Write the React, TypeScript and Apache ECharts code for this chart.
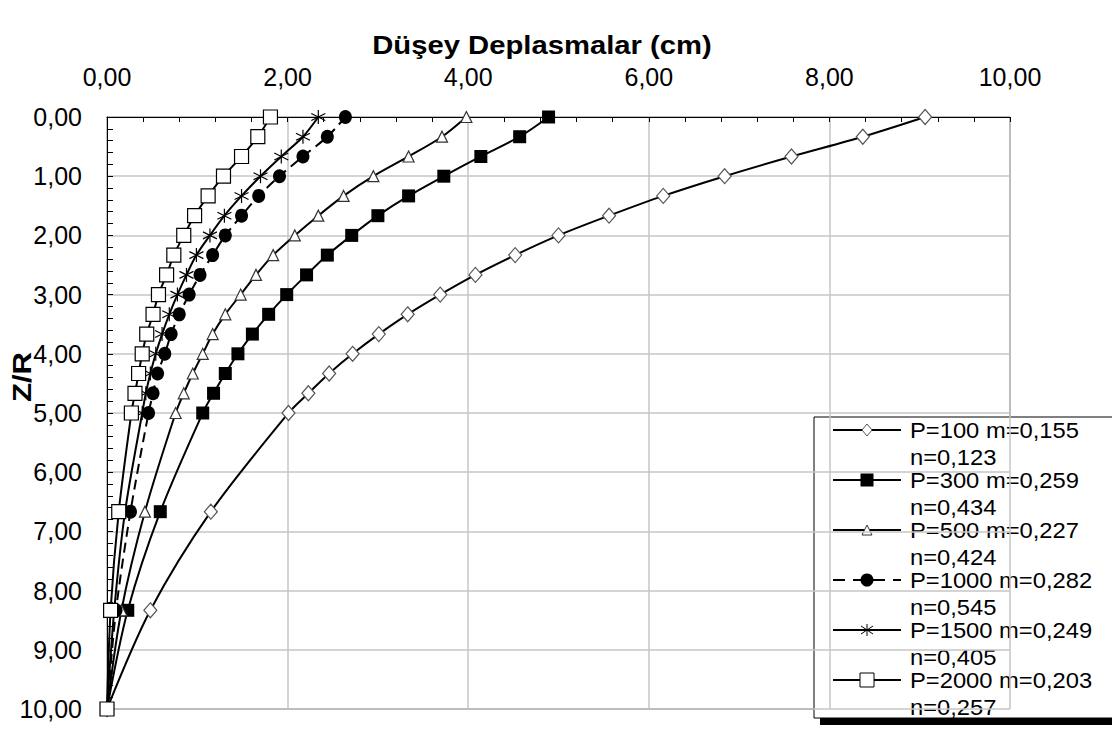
import { useEffect, useRef } from "react";
import * as echarts from "echarts";

// Z/R depth ratios at which the settlements were computed
const depthRatios = [0, 0.333, 0.667, 1, 1.333, 1.667, 2, 2.333, 2.667, 3, 3.333, 3.667, 4, 4.333, 4.667, 5, 6.667, 8.333, 10];

// vertical displacements (cm) for each load case
const p100 = [9.06, 8.37, 7.58, 6.84, 6.16, 5.56, 5.0, 4.52, 4.08, 3.69, 3.33, 3.01, 2.72, 2.46, 2.23, 2.01, 1.15, 0.48, 0];
const p300 = [4.89, 4.57, 4.14, 3.73, 3.34, 3.0, 2.71, 2.44, 2.21, 1.99, 1.79, 1.61, 1.45, 1.31, 1.18, 1.06, 0.59, 0.23, 0];
const p500 = [3.98, 3.71, 3.34, 2.95, 2.62, 2.34, 2.08, 1.84, 1.65, 1.48, 1.31, 1.17, 1.06, 0.95, 0.85, 0.76, 0.42, 0.16, 0];
const p1000 = [2.64, 2.44, 2.17, 1.91, 1.68, 1.49, 1.31, 1.17, 1.03, 0.91, 0.8, 0.71, 0.64, 0.56, 0.51, 0.46, 0.26, 0.1, 0];
const p1500 = [2.34, 2.17, 1.93, 1.7, 1.49, 1.3, 1.14, 0.99, 0.88, 0.78, 0.69, 0.61, 0.54, 0.48, 0.43, 0.39, 0.2, 0.08, 0];
const p2000 = [1.81, 1.67, 1.49, 1.29, 1.12, 0.97, 0.85, 0.74, 0.66, 0.57, 0.51, 0.44, 0.39, 0.35, 0.31, 0.27, 0.13, 0.04, 0];

const seriesValues = [p100, p300, p500, p1000, p1500, p2000];
const seriesNames = ["P=100 m=0,155", "P=300 m=0,259", "P=500 m=0,227", "P=1000 m=0,282", "P=1500 m=0,249", "P=2000 m=0,203"];
const seriesSubNames = ["n=0,123", "n=0,434", "n=0,424", "n=0,545", "n=0,405", "n=0,257"];
const markerKinds = ["diamond", "filledSquare", "triangle", "circle", "asterisk", "hollowSquare"];

const titleText = "Düşey Deplasmalar (cm)";
const yAxisTitle = "Z/R";

const FONT = "Arial, 'Liberation Sans', sans-serif";
const fmt = (v: number) => v.toFixed(2).replace(".", ",");

const ASTERISK = "path://M6 0 L6 12 M0 3 L12 9 M0 9 L12 3";

function seriesSymbol(kind: string) {
  switch (kind) {
    case "diamond":
      return { symbol: "diamond", symbolSize: [13, 15], itemStyle: { color: "#fff", borderColor: "#555", borderWidth: 1.2 } };
    case "filledSquare":
      return { symbol: "rect", symbolSize: 13, itemStyle: { color: "#000", borderColor: "#000", borderWidth: 0 } };
    case "triangle":
      return { symbol: "triangle", symbolSize: [11, 11], itemStyle: { color: "#fff", borderColor: "#333", borderWidth: 1.2 } };
    case "circle":
      return { symbol: "circle", symbolSize: [13, 14], itemStyle: { color: "#000", borderColor: "#000", borderWidth: 0 } };
    case "asterisk":
      return { symbol: ASTERISK, symbolSize: 14, itemStyle: { color: "#000", borderColor: "#000", borderWidth: 1.2 } };
    default:
      return { symbol: "rect", symbolSize: 14, itemStyle: { color: "#fff", borderColor: "#000", borderWidth: 1.2 } };
  }
}

function legendMarker(kind: string, cx: number, cy: number): any[] {
  switch (kind) {
    case "diamond":
      return [{ type: "polygon", shape: { points: [[cx, cy - 6], [cx + 5, cy], [cx, cy + 6], [cx - 5, cy]] }, style: { fill: "#fff", stroke: "#555", lineWidth: 1 } }];
    case "filledSquare":
      return [{ type: "rect", shape: { x: cx - 6.5, y: cy - 6.5, width: 13, height: 13 }, style: { fill: "#000" } }];
    case "triangle":
      return [{ type: "polygon", shape: { points: [[cx, cy - 5], [cx + 5, cy + 5], [cx - 5, cy + 5]] }, style: { fill: "#fff", stroke: "#333", lineWidth: 1 } }];
    case "circle":
      return [{ type: "circle", shape: { cx, cy, r: 6.5 }, style: { fill: "#000" } }];
    case "asterisk":
      return [
        { type: "line", shape: { x1: cx, y1: cy - 6, x2: cx, y2: cy + 6 }, style: { stroke: "#000", lineWidth: 1 } },
        { type: "line", shape: { x1: cx - 6, y1: cy - 4, x2: cx + 6, y2: cy + 4 }, style: { stroke: "#000", lineWidth: 1 } },
        { type: "line", shape: { x1: cx - 6, y1: cy + 4, x2: cx + 6, y2: cy - 4 }, style: { stroke: "#000", lineWidth: 1 } },
      ];
    default:
      return [{ type: "rect", shape: { x: cx - 7, y: cy - 7, width: 14, height: 14 }, style: { fill: "#fff", stroke: "#000", lineWidth: 1 } }];
  }
}

function buildLegend(): any[] {
  const boxX = 814, boxY = 417, boxW = 320, boxH = 301;
  const children: any[] = [
    { type: "rect", shape: { x: boxX + 6, y: boxY + 6, width: boxW, height: boxH + 1 }, style: { fill: "#000" } },
    { type: "rect", shape: { x: boxX, y: boxY, width: boxW, height: boxH }, style: { fill: "#fff", stroke: "#000", lineWidth: 1 } },
  ];
  seriesNames.forEach((name, i) => {
    const cy = 430 + i * 50;
    const dashed = markerKinds[i] === "circle";
    children.push({
      type: "line",
      shape: { x1: 833, y1: cy, x2: 901, y2: cy },
      style: { stroke: "#000", lineWidth: 2, lineDash: dashed ? [12, 8] : null },
    });
    children.push(...legendMarker(markerKinds[i], 867, cy));
    children.push({
      type: "text",
      x: 910,
      y: cy,
      scaleX: 1.08,
      style: { text: name, fill: "#000", font: `22px ${FONT}`, align: "left", verticalAlign: "middle" },
    });
    children.push({
      type: "text",
      x: 910,
      y: cy + 27,
      scaleX: 1.08,
      style: { text: seriesSubNames[i], fill: "#000", font: `22px ${FONT}`, align: "left", verticalAlign: "middle" },
    });
  });
  return [{ type: "group", z: 100, children }];
}

export default function App() {
  const ref = useRef<HTMLDivElement>(null);

  useEffect(() => {
    if (!ref.current) return;
    const chart = echarts.init(ref.current, null, { renderer: "svg" });

    const series = seriesValues.map((vals, i) => {
      const sym = seriesSymbol(markerKinds[i]);
      return {
        name: seriesNames[i],
        type: "line",
        smooth: 0.3,
        data: vals.map((v, k) => [v, depthRatios[k]]),
        symbol: sym.symbol,
        symbolSize: sym.symbolSize,
        itemStyle: sym.itemStyle,
        lineStyle: { color: "#000", width: 2, type: markerKinds[i] === "circle" ? [10, 6] : "solid" },
        z: 2 + i,
      };
    });

    chart.setOption({
      animation: false,
      backgroundColor: "#fff",
      grid: {
        left: 107,
        top: 117,
        width: 903,
        height: 592,
        show: true,
        borderColor: "#444",
        borderWidth: 1,
        backgroundColor: "transparent",
      },
      xAxis: {
        type: "value",
        position: "top",
        min: 0,
        max: 10,
        interval: 2,
        axisLine: { show: true, onZero: false, lineStyle: { color: "#000", width: 1 } },
        axisTick: { show: true, inside: true, length: 5, lineStyle: { color: "#000" } },
        minorTick: { show: true, splitNumber: 5, length: 5, lineStyle: { color: "#000" } },
        splitLine: { show: true, lineStyle: { color: "#c6c6c6", width: 1.5 } },
        axisLabel: { formatter: fmt, fontFamily: FONT, fontSize: 25, color: "#000", margin: 28 },
      },
      yAxis: {
        type: "value",
        inverse: true,
        min: 0,
        max: 10,
        interval: 1,
        axisLine: { show: true, onZero: false, lineStyle: { color: "#000", width: 1 } },
        axisTick: { show: true, inside: true, length: 6, lineStyle: { color: "#000" } },
        minorTick: { show: true, splitNumber: 5, length: 6, lineStyle: { color: "#000" } },
        splitLine: { show: true, lineStyle: { color: "#c6c6c6", width: 1.5 } },
        axisLabel: { formatter: fmt, fontFamily: FONT, fontSize: 25, color: "#000", margin: 25 },
      },
      series,
      graphic: [
        {
          type: "text",
          x: 542,
          y: 45,
          scaleX: 1.17,
          z: 50,
          style: { text: titleText, fill: "#000", font: `bold 25px ${FONT}`, align: "center", verticalAlign: "middle" },
        },
        {
          type: "text",
          x: 22,
          y: 377,
          rotation: Math.PI / 2,
          scaleX: 1.2,
          z: 50,
          style: { text: yAxisTitle, fill: "#000", font: `bold 26px ${FONT}`, align: "center", verticalAlign: "middle" },
        },
        ...buildLegend(),
      ],
    });

    return () => chart.dispose();
  }, []);

  return (
    <div
      ref={ref}
      style={{ position: "fixed", left: 0, top: 0, width: 1112, height: 731, background: "#fff" }}
    />
  );
}
